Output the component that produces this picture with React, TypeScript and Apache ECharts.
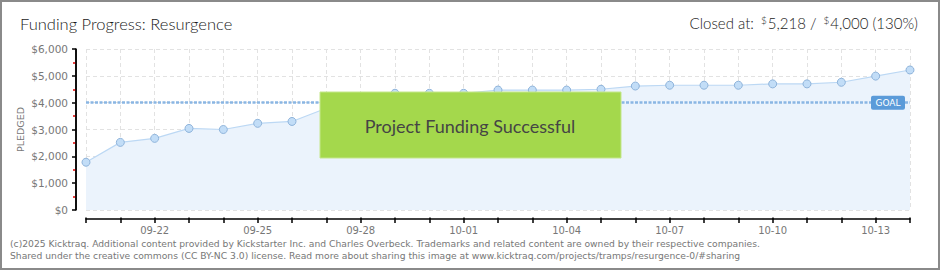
import React, { useEffect, useRef } from "react";
import * as echarts from "echarts";

const dates = [
  "09-20", "09-21", "09-22", "09-23", "09-24", "09-25", "09-26", "09-27", "09-28",
  "09-29", "09-30", "10-01", "10-02", "10-03", "10-04", "10-05", "10-06", "10-07",
  "10-08", "10-09", "10-10", "10-11", "10-12", "10-13", "10-14",
];
const pledged = [
  1780, 2520, 2670, 3040, 3000, 3230, 3300, 3790, 4140, 4350, 4350, 4350, 4470,
  4470, 4470, 4500, 4620, 4650, 4650, 4650, 4700, 4700, 4760, 4990, 5218,
];
const goal = 4000;
const yMin = 0;
const yMax = 6000;
const yStep = 1000;
const titleText = "Funding Progress: Resurgence";
const closedAt = "5,218";
const goalText = "4,000";
const percentText = "(130%)";
const successText = "Project Funding Successful";
const footer1 =
  "(c)2025 Kicktraq. Additional content provided by Kickstarter Inc. and Charles Overbeck. Trademarks and related content are owned by their respective companies.";
const footer2 =
  "Shared under the creative commons (CC BY-NC 3.0) license. Read more about sharing this image at www.kicktraq.com/projects/tramps/resurgence-0/#sharing";

export default function App() {
  const ref = useRef<HTMLDivElement>(null);
  useEffect(() => {
    if (!ref.current) return;
    const chart = echarts.init(ref.current, undefined, { renderer: "svg" });
    const labelFont = "DejaVu Sans";
    const yOffset = 10;
    chart.setOption({
      animation: false,
      backgroundColor: "#ffffff",
      title: [
        {
          text: titleText,
          left: 20,
          top: 15,
          padding: 0,
          textStyle: { fontFamily: "Lato", fontSize: 16.5, fontWeight: 300, color: "#1a1a1a" },
        },
        {
          text: `Closed at: {s|$}${closedAt} / {s|$}${goalText} ${percentText}`,
          right: 22,
          top: 15,
          padding: 0,
          textStyle: {
            fontFamily: "Lato",
            fontSize: 15,
            fontWeight: 300,
            color: "#1a1a1a",
            rich: {
              s: { fontFamily: "Lato", fontSize: 10, fontWeight: 300, color: "#1a1a1a", verticalAlign: "top", padding: [0, 1, 5, 3] },
            },
          },
        },
      ],
      grid: { left: 86, right: 30, top: 49, bottom: 60 },
      xAxis: [
        {
          type: "category",
          data: dates,
          boundaryGap: false,
          offset: 9,
          axisLine: { show: true, onZero: false, lineStyle: { color: "#000", width: 1.5 } },
          axisTick: { show: true, interval: 0, length: 4, lineStyle: { color: "#000", width: 1.5 } },
          axisLabel: {
            interval: (i: number) => i % 3 === 2,
            color: "#777",
            fontFamily: labelFont,
            fontSize: 10,
            margin: 6,
          },
          splitLine: { show: true, interval: 0, lineStyle: { color: "#e2e2e2", type: [4, 3] } },
        },
        {
          type: "category",
          data: dates,
          boundaryGap: false,
          position: "bottom",
          offset: 9,
          axisLine: { show: false, onZero: false },
          axisTick: { show: true, inside: true, interval: 0, length: 1.5, lineStyle: { color: "#000", width: 1.5 } },
          axisLabel: { show: false },
          splitLine: { show: false },
        },
      ],
      yAxis: {
        type: "value",
        min: yMin,
        max: yMax,
        interval: yStep,
        offset: yOffset,
        name: "PLEDGED",
        nameLocation: "middle",
        nameRotate: 90,
        nameGap: 51,
        nameMoveOverlap: false,
        nameTextStyle: { color: "#777", fontFamily: labelFont, fontSize: 9.5 },
        axisLine: { show: true, onZero: false, lineStyle: { color: "#000", width: 1.5 } },
        axisTick: { show: true, length: 4, lineStyle: { color: "#000", width: 1.5 } },
        minorTick: { show: true, splitNumber: 2, length: 3, lineStyle: { color: "#e00000", width: 1.5 } },
        axisLabel: {
          color: "#777",
          fontFamily: labelFont,
          fontSize: 10.5,
          margin: 8,
          formatter: (v: number) => "$" + v.toLocaleString("en-US"),
        },
        splitLine: { show: true, lineStyle: { color: "#e2e2e2", type: [4, 3] } },
      },
      series: [
        {
          type: "line",
          data: pledged,
          symbol: "circle",
          symbolSize: 8,
          itemStyle: { color: "#c2ddf7", borderColor: "#8fb4db", borderWidth: 1 },
          lineStyle: { color: "#bcd8f4", width: 1.2 },
          areaStyle: { color: "#ebf3fc", opacity: 1 },
          markLine: {
            silent: true,
            symbol: ["none", "none"],
            label: { show: false },
            lineStyle: { color: "#8ab6e3", width: 2.5, type: [3, 1.5] },
            data: [{ yAxis: goal }],
          },
        },
      ],
    });

    const [xStart, yTop] = chart.convertToPixel({ gridIndex: 0 }, [0, yMax]) as number[];
    const [xEnd, yGoal] = chart.convertToPixel({ gridIndex: 0 }, [dates.length - 1, goal]) as number[];
    const yBottom = chart.convertToPixel({ yAxisIndex: 0 }, yMin) as number;
    const axisX = Math.round(xStart - yOffset);
    chart.setOption({
      graphic: [
        {
          type: "rect",
          shape: { x: 1, y: 1, width: 938, height: 268 },
          style: { fill: "none", stroke: "#8a8a8a", lineWidth: 2 },
          z: 100,
        },
        {
          type: "line",
          shape: { x1: axisX, y1: yTop, x2: axisX, y2: yBottom },
          style: { stroke: "#000", lineWidth: 1.5 },
          z: 60,
        },
        {
          type: "rect",
          shape: { x: xEnd - 39, y: yGoal - 7, width: 34, height: 14, r: 2 },
          style: { fill: "#5b9bd9" },
          z: 50,
        },
        {
          type: "text",
          x: xEnd - 22,
          y: yGoal,
          style: {
            text: "GOAL",
            fill: "#ffffff",
            font: "9px DejaVu Sans",
            align: "center",
            verticalAlign: "middle",
          },
          z: 51,
        },
        {
          type: "rect",
          shape: { x: 320, y: 92, width: 301, height: 66 },
          style: { fill: "#a4d84c", stroke: "#c4e78b", lineWidth: 1 },
          z: 50,
        },
        {
          type: "text",
          x: 470,
          y: 126,
          style: {
            text: successText,
            fill: "#454545",
            font: "18px Lato",
            align: "center",
            verticalAlign: "middle",
            textShadowColor: "#ffffff",
            textShadowOffsetX: 1,
            textShadowOffsetY: 1,
            textShadowBlur: 0,
          },
          z: 51,
        },
        {
          type: "text",
          x: 10,
          y: 243,
          style: { text: footer1, fill: "#777", font: "9.2px DejaVu Sans", verticalAlign: "middle" },
        },
        {
          type: "text",
          x: 10,
          y: 255,
          style: { text: footer2, fill: "#777", font: "9.2px DejaVu Sans", verticalAlign: "middle" },
        },
      ],
    });
    return () => chart.dispose();
  }, []);
  return (
    <div
      ref={ref}
      style={{ position: "absolute", left: 0, top: 0, width: 940, height: 270 }}
    />
  );
}
